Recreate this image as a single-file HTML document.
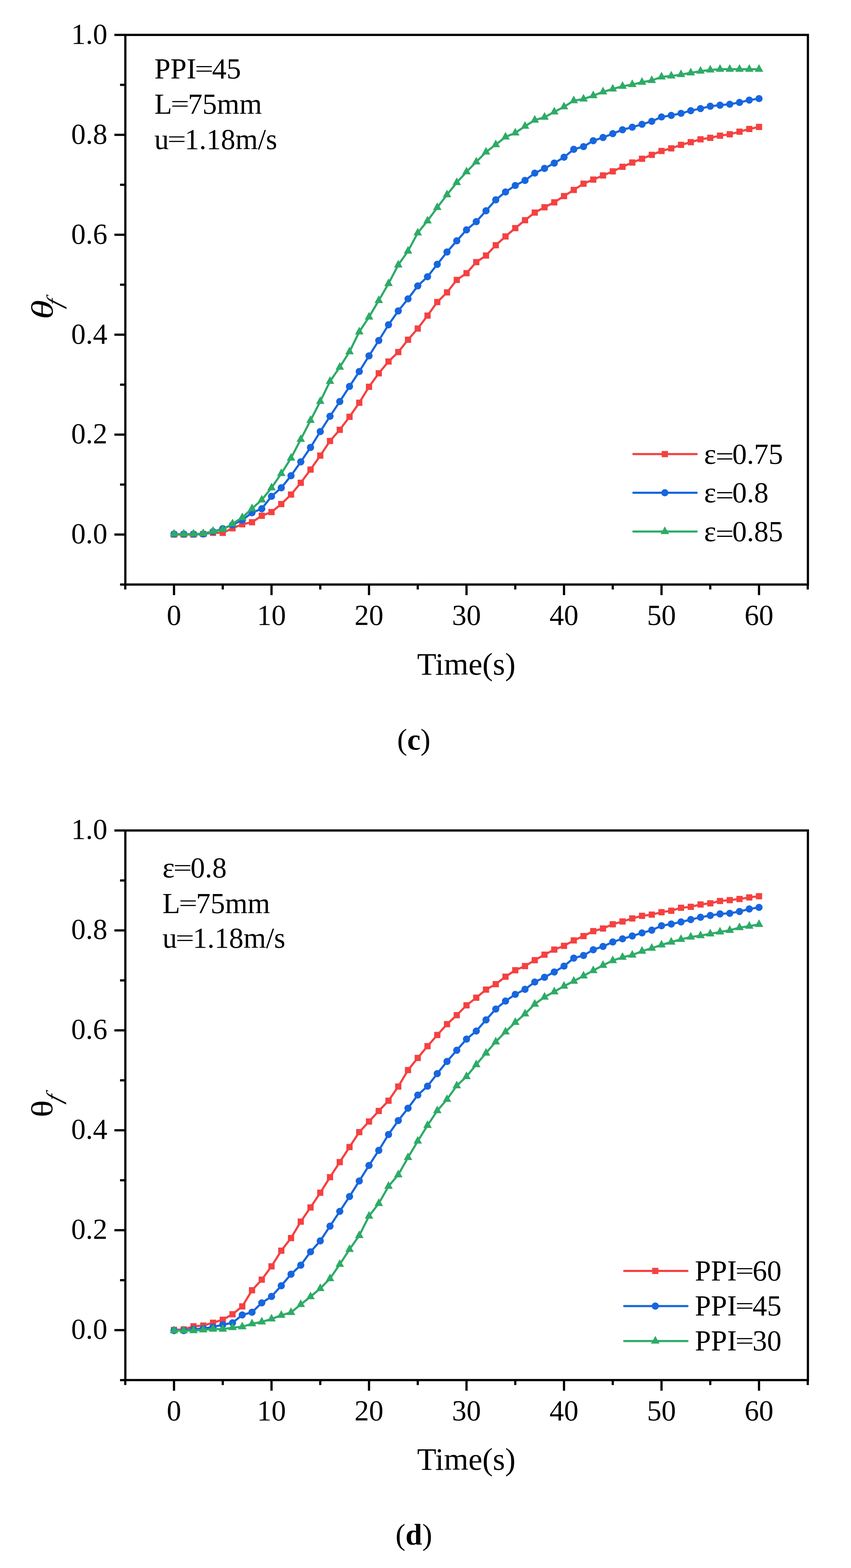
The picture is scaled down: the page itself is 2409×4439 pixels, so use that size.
<!DOCTYPE html>
<html><head><meta charset="utf-8"><title>Figure</title>
<style>
html,body{margin:0;padding:0;background:#fff;}
svg{display:block;}
.tk{font-family:"Liberation Serif","Times New Roman",serif;font-size:82px;fill:#000;}
.al{font-family:"Liberation Serif","Times New Roman",serif;font-size:89px;fill:#000;}
.cap{font-family:"Liberation Serif","Times New Roman",serif;font-size:85px;fill:#000;}
</style></head><body>
<svg width="2409" height="4439" viewBox="0 0 2409 4439">
<rect width="2409" height="4439" fill="#fff"/>
<rect x="354.8" y="98.8" width="1932.2" height="1556.0" fill="none" stroke="#000" stroke-width="6.3" stroke-linejoin="miter"/>
<line x1="354.8" y1="1654.8" x2="339.8" y2="1654.8" stroke="#000" stroke-width="6.3"/>
<line x1="354.8" y1="1513.3" x2="323.8" y2="1513.3" stroke="#000" stroke-width="6.3"/>
<line x1="354.8" y1="1371.8" x2="339.8" y2="1371.8" stroke="#000" stroke-width="6.3"/>
<line x1="354.8" y1="1230.4" x2="323.8" y2="1230.4" stroke="#000" stroke-width="6.3"/>
<line x1="354.8" y1="1089.0" x2="339.8" y2="1089.0" stroke="#000" stroke-width="6.3"/>
<line x1="354.8" y1="947.5" x2="323.8" y2="947.5" stroke="#000" stroke-width="6.3"/>
<line x1="354.8" y1="806.0" x2="339.8" y2="806.0" stroke="#000" stroke-width="6.3"/>
<line x1="354.8" y1="664.6" x2="323.8" y2="664.6" stroke="#000" stroke-width="6.3"/>
<line x1="354.8" y1="523.1" x2="339.8" y2="523.1" stroke="#000" stroke-width="6.3"/>
<line x1="354.8" y1="381.7" x2="323.8" y2="381.7" stroke="#000" stroke-width="6.3"/>
<line x1="354.8" y1="240.2" x2="339.8" y2="240.2" stroke="#000" stroke-width="6.3"/>
<line x1="354.8" y1="98.8" x2="323.8" y2="98.8" stroke="#000" stroke-width="6.3"/>
<text x="304" y="1538.3" text-anchor="end" class="tk">0.0</text>
<text x="304" y="1255.4" text-anchor="end" class="tk">0.2</text>
<text x="304" y="972.5" text-anchor="end" class="tk">0.4</text>
<text x="304" y="689.6" text-anchor="end" class="tk">0.6</text>
<text x="304" y="406.7" text-anchor="end" class="tk">0.8</text>
<text x="304" y="123.8" text-anchor="end" class="tk">1.0</text>
<line x1="354.6" y1="1654.8" x2="354.6" y2="1668.8" stroke="#000" stroke-width="6.3"/>
<line x1="492.6" y1="1654.8" x2="492.6" y2="1684.8" stroke="#000" stroke-width="6.3"/>
<line x1="630.6" y1="1654.8" x2="630.6" y2="1668.8" stroke="#000" stroke-width="6.3"/>
<line x1="768.6" y1="1654.8" x2="768.6" y2="1684.8" stroke="#000" stroke-width="6.3"/>
<line x1="906.6" y1="1654.8" x2="906.6" y2="1668.8" stroke="#000" stroke-width="6.3"/>
<line x1="1044.6" y1="1654.8" x2="1044.6" y2="1684.8" stroke="#000" stroke-width="6.3"/>
<line x1="1182.6" y1="1654.8" x2="1182.6" y2="1668.8" stroke="#000" stroke-width="6.3"/>
<line x1="1320.6" y1="1654.8" x2="1320.6" y2="1684.8" stroke="#000" stroke-width="6.3"/>
<line x1="1458.6" y1="1654.8" x2="1458.6" y2="1668.8" stroke="#000" stroke-width="6.3"/>
<line x1="1596.6" y1="1654.8" x2="1596.6" y2="1684.8" stroke="#000" stroke-width="6.3"/>
<line x1="1734.6" y1="1654.8" x2="1734.6" y2="1668.8" stroke="#000" stroke-width="6.3"/>
<line x1="1872.6" y1="1654.8" x2="1872.6" y2="1684.8" stroke="#000" stroke-width="6.3"/>
<line x1="2010.6" y1="1654.8" x2="2010.6" y2="1668.8" stroke="#000" stroke-width="6.3"/>
<line x1="2148.6" y1="1654.8" x2="2148.6" y2="1684.8" stroke="#000" stroke-width="6.3"/>
<line x1="2286.6" y1="1654.8" x2="2286.6" y2="1668.8" stroke="#000" stroke-width="6.3"/>
<text x="492.6" y="1769.3" text-anchor="middle" class="tk">0</text>
<text x="768.6" y="1769.3" text-anchor="middle" class="tk">10</text>
<text x="1044.6" y="1769.3" text-anchor="middle" class="tk">20</text>
<text x="1320.6" y="1769.3" text-anchor="middle" class="tk">30</text>
<text x="1596.6" y="1769.3" text-anchor="middle" class="tk">40</text>
<text x="1872.6" y="1769.3" text-anchor="middle" class="tk">50</text>
<text x="2148.6" y="1769.3" text-anchor="middle" class="tk">60</text>
<text x="1320" y="1909.8" text-anchor="middle" class="al">Time(s)</text>
<path d="M492.6 1513.3 L520.2 1513.3 L547.8 1513.3 L575.4 1511.9 L603.0 1508.3 L630.6 1508.6 L658.2 1495.5 L685.8 1484.2 L713.4 1478.4 L741.0 1460.1 L768.6 1449.6 L796.2 1427.0 L823.8 1400.1 L851.4 1366.8 L879.0 1329.4 L906.6 1289.8 L934.2 1248.4 L961.8 1216.8 L989.4 1180.0 L1017.0 1140.2 L1044.6 1095.0 L1072.2 1056.8 L1099.8 1023.5 L1127.4 996.7 L1155.0 961.8 L1182.6 930.1 L1210.2 893.5 L1237.8 855.1 L1265.4 827.8 L1293.0 792.5 L1320.6 773.4 L1348.2 742.1 L1375.8 723.4 L1403.4 694.2 L1431.0 669.4 L1458.6 645.8 L1486.2 623.4 L1513.8 601.8 L1541.4 586.8 L1569.0 572.8 L1596.6 555.1 L1624.2 537.7 L1651.8 520.0 L1679.4 508.4 L1707.0 496.7 L1734.6 485.1 L1762.2 472.2 L1789.8 460.1 L1817.4 449.5 L1845.0 438.4 L1872.6 427.4 L1900.2 420.0 L1927.8 410.1 L1955.4 402.5 L1983.0 394.4 L2010.6 390.2 L2038.2 384.1 L2065.8 380.1 L2093.4 372.8 L2121.0 365.2 L2148.6 359.4" fill="none" stroke="#F54141" stroke-width="6.0" stroke-linejoin="round" stroke-linecap="round"/>
<rect x="483.8" y="1504.5" width="17.6" height="17.6" fill="#F54141"/>
<rect x="511.4" y="1504.5" width="17.6" height="17.6" fill="#F54141"/>
<rect x="539.0" y="1504.5" width="17.6" height="17.6" fill="#F54141"/>
<rect x="566.6" y="1503.1" width="17.6" height="17.6" fill="#F54141"/>
<rect x="594.2" y="1499.5" width="17.6" height="17.6" fill="#F54141"/>
<rect x="621.8" y="1499.8" width="17.6" height="17.6" fill="#F54141"/>
<rect x="649.4" y="1486.7" width="17.6" height="17.6" fill="#F54141"/>
<rect x="677.0" y="1475.4" width="17.6" height="17.6" fill="#F54141"/>
<rect x="704.6" y="1469.6" width="17.6" height="17.6" fill="#F54141"/>
<rect x="732.2" y="1451.3" width="17.6" height="17.6" fill="#F54141"/>
<rect x="759.8" y="1440.8" width="17.6" height="17.6" fill="#F54141"/>
<rect x="787.4" y="1418.2" width="17.6" height="17.6" fill="#F54141"/>
<rect x="815.0" y="1391.3" width="17.6" height="17.6" fill="#F54141"/>
<rect x="842.6" y="1358.0" width="17.6" height="17.6" fill="#F54141"/>
<rect x="870.2" y="1320.6" width="17.6" height="17.6" fill="#F54141"/>
<rect x="897.8" y="1281.0" width="17.6" height="17.6" fill="#F54141"/>
<rect x="925.4" y="1239.6" width="17.6" height="17.6" fill="#F54141"/>
<rect x="953.0" y="1208.0" width="17.6" height="17.6" fill="#F54141"/>
<rect x="980.6" y="1171.2" width="17.6" height="17.6" fill="#F54141"/>
<rect x="1008.2" y="1131.4" width="17.6" height="17.6" fill="#F54141"/>
<rect x="1035.8" y="1086.2" width="17.6" height="17.6" fill="#F54141"/>
<rect x="1063.4" y="1048.0" width="17.6" height="17.6" fill="#F54141"/>
<rect x="1091.0" y="1014.7" width="17.6" height="17.6" fill="#F54141"/>
<rect x="1118.6" y="987.9" width="17.6" height="17.6" fill="#F54141"/>
<rect x="1146.2" y="953.0" width="17.6" height="17.6" fill="#F54141"/>
<rect x="1173.8" y="921.3" width="17.6" height="17.6" fill="#F54141"/>
<rect x="1201.4" y="884.7" width="17.6" height="17.6" fill="#F54141"/>
<rect x="1229.0" y="846.3" width="17.6" height="17.6" fill="#F54141"/>
<rect x="1256.6" y="819.0" width="17.6" height="17.6" fill="#F54141"/>
<rect x="1284.2" y="783.7" width="17.6" height="17.6" fill="#F54141"/>
<rect x="1311.8" y="764.6" width="17.6" height="17.6" fill="#F54141"/>
<rect x="1339.4" y="733.3" width="17.6" height="17.6" fill="#F54141"/>
<rect x="1367.0" y="714.6" width="17.6" height="17.6" fill="#F54141"/>
<rect x="1394.6" y="685.4" width="17.6" height="17.6" fill="#F54141"/>
<rect x="1422.2" y="660.6" width="17.6" height="17.6" fill="#F54141"/>
<rect x="1449.8" y="637.0" width="17.6" height="17.6" fill="#F54141"/>
<rect x="1477.4" y="614.6" width="17.6" height="17.6" fill="#F54141"/>
<rect x="1505.0" y="593.0" width="17.6" height="17.6" fill="#F54141"/>
<rect x="1532.6" y="578.0" width="17.6" height="17.6" fill="#F54141"/>
<rect x="1560.2" y="564.0" width="17.6" height="17.6" fill="#F54141"/>
<rect x="1587.8" y="546.3" width="17.6" height="17.6" fill="#F54141"/>
<rect x="1615.4" y="528.9" width="17.6" height="17.6" fill="#F54141"/>
<rect x="1643.0" y="511.2" width="17.6" height="17.6" fill="#F54141"/>
<rect x="1670.6" y="499.6" width="17.6" height="17.6" fill="#F54141"/>
<rect x="1698.2" y="487.9" width="17.6" height="17.6" fill="#F54141"/>
<rect x="1725.8" y="476.3" width="17.6" height="17.6" fill="#F54141"/>
<rect x="1753.4" y="463.4" width="17.6" height="17.6" fill="#F54141"/>
<rect x="1781.0" y="451.3" width="17.6" height="17.6" fill="#F54141"/>
<rect x="1808.6" y="440.7" width="17.6" height="17.6" fill="#F54141"/>
<rect x="1836.2" y="429.6" width="17.6" height="17.6" fill="#F54141"/>
<rect x="1863.8" y="418.6" width="17.6" height="17.6" fill="#F54141"/>
<rect x="1891.4" y="411.2" width="17.6" height="17.6" fill="#F54141"/>
<rect x="1919.0" y="401.3" width="17.6" height="17.6" fill="#F54141"/>
<rect x="1946.6" y="393.7" width="17.6" height="17.6" fill="#F54141"/>
<rect x="1974.2" y="385.6" width="17.6" height="17.6" fill="#F54141"/>
<rect x="2001.8" y="381.4" width="17.6" height="17.6" fill="#F54141"/>
<rect x="2029.4" y="375.3" width="17.6" height="17.6" fill="#F54141"/>
<rect x="2057.0" y="371.3" width="17.6" height="17.6" fill="#F54141"/>
<rect x="2084.6" y="364.0" width="17.6" height="17.6" fill="#F54141"/>
<rect x="2112.2" y="356.4" width="17.6" height="17.6" fill="#F54141"/>
<rect x="2139.8" y="350.6" width="17.6" height="17.6" fill="#F54141"/>
<path d="M492.6 1511.9 L520.2 1511.9 L547.8 1511.9 L575.4 1511.9 L603.0 1505.0 L630.6 1496.8 L658.2 1485.9 L685.8 1472.3 L713.4 1451.5 L741.0 1440.2 L768.6 1405.1 L796.2 1381.0 L823.8 1346.8 L851.4 1307.5 L879.0 1266.8 L906.6 1221.8 L934.2 1178.5 L961.8 1136.8 L989.4 1094.0 L1017.0 1051.7 L1044.6 1007.5 L1072.2 964.0 L1099.8 919.5 L1127.4 880.2 L1155.0 846.1 L1182.6 809.4 L1210.2 783.4 L1237.8 748.3 L1265.4 713.4 L1293.0 681.7 L1320.6 650.7 L1348.2 627.5 L1375.8 596.7 L1403.4 565.7 L1431.0 543.4 L1458.6 525.1 L1486.2 510.8 L1513.8 490.1 L1541.4 476.8 L1569.0 461.8 L1596.6 445.1 L1624.2 422.7 L1651.8 415.1 L1679.4 398.4 L1707.0 389.3 L1734.6 378.4 L1762.2 367.4 L1789.8 360.1 L1817.4 351.9 L1845.0 343.4 L1872.6 331.1 L1900.2 326.8 L1927.8 320.9 L1955.4 313.4 L1983.0 307.4 L2010.6 300.8 L2038.2 297.8 L2065.8 295.1 L2093.4 290.0 L2121.0 283.4 L2148.6 279.1" fill="none" stroke="#1766DE" stroke-width="6.0" stroke-linejoin="round" stroke-linecap="round"/>
<circle cx="492.6" cy="1511.9" r="10.2" fill="#1766DE"/>
<circle cx="520.2" cy="1511.9" r="10.2" fill="#1766DE"/>
<circle cx="547.8" cy="1511.9" r="10.2" fill="#1766DE"/>
<circle cx="575.4" cy="1511.9" r="10.2" fill="#1766DE"/>
<circle cx="603.0" cy="1505.0" r="10.2" fill="#1766DE"/>
<circle cx="630.6" cy="1496.8" r="10.2" fill="#1766DE"/>
<circle cx="658.2" cy="1485.9" r="10.2" fill="#1766DE"/>
<circle cx="685.8" cy="1472.3" r="10.2" fill="#1766DE"/>
<circle cx="713.4" cy="1451.5" r="10.2" fill="#1766DE"/>
<circle cx="741.0" cy="1440.2" r="10.2" fill="#1766DE"/>
<circle cx="768.6" cy="1405.1" r="10.2" fill="#1766DE"/>
<circle cx="796.2" cy="1381.0" r="10.2" fill="#1766DE"/>
<circle cx="823.8" cy="1346.8" r="10.2" fill="#1766DE"/>
<circle cx="851.4" cy="1307.5" r="10.2" fill="#1766DE"/>
<circle cx="879.0" cy="1266.8" r="10.2" fill="#1766DE"/>
<circle cx="906.6" cy="1221.8" r="10.2" fill="#1766DE"/>
<circle cx="934.2" cy="1178.5" r="10.2" fill="#1766DE"/>
<circle cx="961.8" cy="1136.8" r="10.2" fill="#1766DE"/>
<circle cx="989.4" cy="1094.0" r="10.2" fill="#1766DE"/>
<circle cx="1017.0" cy="1051.7" r="10.2" fill="#1766DE"/>
<circle cx="1044.6" cy="1007.5" r="10.2" fill="#1766DE"/>
<circle cx="1072.2" cy="964.0" r="10.2" fill="#1766DE"/>
<circle cx="1099.8" cy="919.5" r="10.2" fill="#1766DE"/>
<circle cx="1127.4" cy="880.2" r="10.2" fill="#1766DE"/>
<circle cx="1155.0" cy="846.1" r="10.2" fill="#1766DE"/>
<circle cx="1182.6" cy="809.4" r="10.2" fill="#1766DE"/>
<circle cx="1210.2" cy="783.4" r="10.2" fill="#1766DE"/>
<circle cx="1237.8" cy="748.3" r="10.2" fill="#1766DE"/>
<circle cx="1265.4" cy="713.4" r="10.2" fill="#1766DE"/>
<circle cx="1293.0" cy="681.7" r="10.2" fill="#1766DE"/>
<circle cx="1320.6" cy="650.7" r="10.2" fill="#1766DE"/>
<circle cx="1348.2" cy="627.5" r="10.2" fill="#1766DE"/>
<circle cx="1375.8" cy="596.7" r="10.2" fill="#1766DE"/>
<circle cx="1403.4" cy="565.7" r="10.2" fill="#1766DE"/>
<circle cx="1431.0" cy="543.4" r="10.2" fill="#1766DE"/>
<circle cx="1458.6" cy="525.1" r="10.2" fill="#1766DE"/>
<circle cx="1486.2" cy="510.8" r="10.2" fill="#1766DE"/>
<circle cx="1513.8" cy="490.1" r="10.2" fill="#1766DE"/>
<circle cx="1541.4" cy="476.8" r="10.2" fill="#1766DE"/>
<circle cx="1569.0" cy="461.8" r="10.2" fill="#1766DE"/>
<circle cx="1596.6" cy="445.1" r="10.2" fill="#1766DE"/>
<circle cx="1624.2" cy="422.7" r="10.2" fill="#1766DE"/>
<circle cx="1651.8" cy="415.1" r="10.2" fill="#1766DE"/>
<circle cx="1679.4" cy="398.4" r="10.2" fill="#1766DE"/>
<circle cx="1707.0" cy="389.3" r="10.2" fill="#1766DE"/>
<circle cx="1734.6" cy="378.4" r="10.2" fill="#1766DE"/>
<circle cx="1762.2" cy="367.4" r="10.2" fill="#1766DE"/>
<circle cx="1789.8" cy="360.1" r="10.2" fill="#1766DE"/>
<circle cx="1817.4" cy="351.9" r="10.2" fill="#1766DE"/>
<circle cx="1845.0" cy="343.4" r="10.2" fill="#1766DE"/>
<circle cx="1872.6" cy="331.1" r="10.2" fill="#1766DE"/>
<circle cx="1900.2" cy="326.8" r="10.2" fill="#1766DE"/>
<circle cx="1927.8" cy="320.9" r="10.2" fill="#1766DE"/>
<circle cx="1955.4" cy="313.4" r="10.2" fill="#1766DE"/>
<circle cx="1983.0" cy="307.4" r="10.2" fill="#1766DE"/>
<circle cx="2010.6" cy="300.8" r="10.2" fill="#1766DE"/>
<circle cx="2038.2" cy="297.8" r="10.2" fill="#1766DE"/>
<circle cx="2065.8" cy="295.1" r="10.2" fill="#1766DE"/>
<circle cx="2093.4" cy="290.0" r="10.2" fill="#1766DE"/>
<circle cx="2121.0" cy="283.4" r="10.2" fill="#1766DE"/>
<circle cx="2148.6" cy="279.1" r="10.2" fill="#1766DE"/>
<path d="M492.6 1511.9 L520.2 1511.9 L547.8 1511.9 L575.4 1510.6 L603.0 1504.1 L630.6 1499.4 L658.2 1482.7 L685.8 1465.3 L713.4 1440.0 L741.0 1415.1 L768.6 1381.0 L796.2 1340.6 L823.8 1296.9 L851.4 1243.8 L879.0 1190.1 L906.6 1136.3 L934.2 1079.5 L961.8 1039.4 L989.4 995.7 L1017.0 939.4 L1044.6 897.4 L1072.2 850.7 L1099.8 802.8 L1127.4 750.0 L1155.0 710.7 L1182.6 659.4 L1210.2 625.1 L1237.8 587.4 L1265.4 551.2 L1293.0 516.8 L1320.6 486.4 L1348.2 458.4 L1375.8 430.4 L1403.4 409.4 L1431.0 387.8 L1458.6 376.2 L1486.2 357.4 L1513.8 340.1 L1541.4 331.8 L1569.0 316.8 L1596.6 302.3 L1624.2 285.1 L1651.8 280.1 L1679.4 270.8 L1707.0 260.1 L1734.6 251.8 L1762.2 244.2 L1789.8 239.3 L1817.4 232.8 L1845.0 227.8 L1872.6 217.8 L1900.2 215.1 L1927.8 211.1 L1955.4 206.3 L1983.0 201.4 L2010.6 198.0 L2038.2 196.0 L2065.8 196.0 L2093.4 196.0 L2121.0 196.0 L2148.6 196.0" fill="none" stroke="#2EAB67" stroke-width="6.0" stroke-linejoin="round" stroke-linecap="round"/>
<path d="M492.6 1497.4L504.6 1519.1L480.6 1519.1Z" fill="#2EAB67"/>
<path d="M520.2 1497.4L532.2 1519.1L508.2 1519.1Z" fill="#2EAB67"/>
<path d="M547.8 1497.4L559.8 1519.1L535.8 1519.1Z" fill="#2EAB67"/>
<path d="M575.4 1496.1L587.4 1517.8L563.4 1517.8Z" fill="#2EAB67"/>
<path d="M603.0 1489.6L615.0 1511.3L591.0 1511.3Z" fill="#2EAB67"/>
<path d="M630.6 1485.0L642.6 1506.7L618.6 1506.7Z" fill="#2EAB67"/>
<path d="M658.2 1468.3L670.2 1490.0L646.2 1490.0Z" fill="#2EAB67"/>
<path d="M685.8 1450.9L697.8 1472.6L673.8 1472.6Z" fill="#2EAB67"/>
<path d="M713.4 1425.6L725.4 1447.3L701.4 1447.3Z" fill="#2EAB67"/>
<path d="M741.0 1400.7L753.0 1422.4L729.0 1422.4Z" fill="#2EAB67"/>
<path d="M768.6 1366.6L780.6 1388.3L756.6 1388.3Z" fill="#2EAB67"/>
<path d="M796.2 1326.1L808.2 1347.8L784.2 1347.8Z" fill="#2EAB67"/>
<path d="M823.8 1282.4L835.8 1304.1L811.8 1304.1Z" fill="#2EAB67"/>
<path d="M851.4 1229.4L863.4 1251.1L839.4 1251.1Z" fill="#2EAB67"/>
<path d="M879.0 1175.6L891.0 1197.3L867.0 1197.3Z" fill="#2EAB67"/>
<path d="M906.6 1121.9L918.6 1143.6L894.6 1143.6Z" fill="#2EAB67"/>
<path d="M934.2 1065.0L946.2 1086.7L922.2 1086.7Z" fill="#2EAB67"/>
<path d="M961.8 1025.0L973.8 1046.7L949.8 1046.7Z" fill="#2EAB67"/>
<path d="M989.4 981.3L1001.4 1003.0L977.4 1003.0Z" fill="#2EAB67"/>
<path d="M1017.0 925.0L1029.0 946.7L1005.0 946.7Z" fill="#2EAB67"/>
<path d="M1044.6 883.0L1056.6 904.7L1032.6 904.7Z" fill="#2EAB67"/>
<path d="M1072.2 836.3L1084.2 858.0L1060.2 858.0Z" fill="#2EAB67"/>
<path d="M1099.8 788.3L1111.8 810.0L1087.8 810.0Z" fill="#2EAB67"/>
<path d="M1127.4 735.6L1139.4 757.3L1115.4 757.3Z" fill="#2EAB67"/>
<path d="M1155.0 696.2L1167.0 717.9L1143.0 717.9Z" fill="#2EAB67"/>
<path d="M1182.6 644.9L1194.6 666.6L1170.6 666.6Z" fill="#2EAB67"/>
<path d="M1210.2 610.7L1222.2 632.4L1198.2 632.4Z" fill="#2EAB67"/>
<path d="M1237.8 572.9L1249.8 594.6L1225.8 594.6Z" fill="#2EAB67"/>
<path d="M1265.4 536.7L1277.4 558.4L1253.4 558.4Z" fill="#2EAB67"/>
<path d="M1293.0 502.3L1305.0 524.0L1281.0 524.0Z" fill="#2EAB67"/>
<path d="M1320.6 471.9L1332.6 493.6L1308.6 493.6Z" fill="#2EAB67"/>
<path d="M1348.2 443.9L1360.2 465.6L1336.2 465.6Z" fill="#2EAB67"/>
<path d="M1375.8 415.9L1387.8 437.6L1363.8 437.6Z" fill="#2EAB67"/>
<path d="M1403.4 395.0L1415.4 416.7L1391.4 416.7Z" fill="#2EAB67"/>
<path d="M1431.0 373.3L1443.0 395.0L1419.0 395.0Z" fill="#2EAB67"/>
<path d="M1458.6 361.7L1470.6 383.4L1446.6 383.4Z" fill="#2EAB67"/>
<path d="M1486.2 342.9L1498.2 364.6L1474.2 364.6Z" fill="#2EAB67"/>
<path d="M1513.8 325.6L1525.8 347.3L1501.8 347.3Z" fill="#2EAB67"/>
<path d="M1541.4 317.3L1553.4 339.0L1529.4 339.0Z" fill="#2EAB67"/>
<path d="M1569.0 302.3L1581.0 324.0L1557.0 324.0Z" fill="#2EAB67"/>
<path d="M1596.6 287.9L1608.6 309.6L1584.6 309.6Z" fill="#2EAB67"/>
<path d="M1624.2 270.6L1636.2 292.3L1612.2 292.3Z" fill="#2EAB67"/>
<path d="M1651.8 265.7L1663.8 287.4L1639.8 287.4Z" fill="#2EAB67"/>
<path d="M1679.4 256.3L1691.4 278.0L1667.4 278.0Z" fill="#2EAB67"/>
<path d="M1707.0 245.6L1719.0 267.3L1695.0 267.3Z" fill="#2EAB67"/>
<path d="M1734.6 237.4L1746.6 259.1L1722.6 259.1Z" fill="#2EAB67"/>
<path d="M1762.2 229.7L1774.2 251.4L1750.2 251.4Z" fill="#2EAB67"/>
<path d="M1789.8 224.8L1801.8 246.5L1777.8 246.5Z" fill="#2EAB67"/>
<path d="M1817.4 218.3L1829.4 240.0L1805.4 240.0Z" fill="#2EAB67"/>
<path d="M1845.0 213.3L1857.0 235.0L1833.0 235.0Z" fill="#2EAB67"/>
<path d="M1872.6 203.3L1884.6 225.0L1860.6 225.0Z" fill="#2EAB67"/>
<path d="M1900.2 200.6L1912.2 222.3L1888.2 222.3Z" fill="#2EAB67"/>
<path d="M1927.8 196.6L1939.8 218.3L1915.8 218.3Z" fill="#2EAB67"/>
<path d="M1955.4 191.8L1967.4 213.5L1943.4 213.5Z" fill="#2EAB67"/>
<path d="M1983.0 186.9L1995.0 208.6L1971.0 208.6Z" fill="#2EAB67"/>
<path d="M2010.6 183.5L2022.6 205.2L1998.6 205.2Z" fill="#2EAB67"/>
<path d="M2038.2 181.5L2050.2 203.2L2026.2 203.2Z" fill="#2EAB67"/>
<path d="M2065.8 181.5L2077.8 203.2L2053.8 203.2Z" fill="#2EAB67"/>
<path d="M2093.4 181.5L2105.4 203.2L2081.4 203.2Z" fill="#2EAB67"/>
<path d="M2121.0 181.5L2133.0 203.2L2109.0 203.2Z" fill="#2EAB67"/>
<path d="M2148.6 181.5L2160.6 203.2L2136.6 203.2Z" fill="#2EAB67"/>
<line x1="1793" y1="1285.5" x2="1972" y2="1285.5" stroke="#F54141" stroke-width="6.0" stroke-linecap="round"/>
<rect x="1873.2" y="1276.7" width="17.6" height="17.6" fill="#F54141"/>
<text x="1993" y="1312.7" class="tk">ε<tspan style="font-size:72px" dx="-1.9" dy="3.5" textLength="52.2" lengthAdjust="spacingAndGlyphs">=</tspan><tspan dx="-4.7" dy="-3.5">0.75</tspan></text>
<line x1="1793" y1="1395.0" x2="1972" y2="1395.0" stroke="#1766DE" stroke-width="6.0" stroke-linecap="round"/>
<circle cx="1882.0" cy="1395.0" r="10.2" fill="#1766DE"/>
<text x="1993" y="1422.2" class="tk">ε<tspan style="font-size:72px" dx="-1.9" dy="3.5" textLength="52.2" lengthAdjust="spacingAndGlyphs">=</tspan><tspan dx="-4.7" dy="-3.5">0.8</tspan></text>
<line x1="1793" y1="1504.7" x2="1972" y2="1504.7" stroke="#2EAB67" stroke-width="6.0" stroke-linecap="round"/>
<path d="M1882.0 1490.2L1894.0 1511.9L1870.0 1511.9Z" fill="#2EAB67"/>
<text x="1993" y="1531.9" class="tk">ε<tspan style="font-size:72px" dx="-1.9" dy="3.5" textLength="52.2" lengthAdjust="spacingAndGlyphs">=</tspan><tspan dx="-4.7" dy="-3.5">0.85</tspan></text>
<text x="437" y="222" class="tk">PPI<tspan style="font-size:64px" dx="-4.0" dy="-6.1" textLength="52.8" lengthAdjust="spacingAndGlyphs">=</tspan><tspan dx="-4.0" dy="6.1">45</tspan></text><text x="437" y="321.5" class="tk">L<tspan style="font-size:64px" dx="-4.0" dy="-6.1" textLength="52.8" lengthAdjust="spacingAndGlyphs">=</tspan><tspan dx="-4.0" dy="6.1">75mm</tspan></text><text x="437" y="421.5" class="tk">u<tspan style="font-size:64px" dx="-4.0" dy="-6.1" textLength="52.8" lengthAdjust="spacingAndGlyphs">=</tspan><tspan dx="-4.0" dy="6.1">1.18m/s</tspan></text>
<text transform="translate(148.6,904) rotate(-90) scale(1.25,0.985)" class="al" font-style="italic">θ</text><text transform="translate(174.6,871.6) rotate(-90) skewX(-18)" class="al" style="font-size:62px" font-style="italic">f</text>
<text x="1171.5" y="2121.5" text-anchor="middle" class="cap">(<tspan font-weight="bold">c</tspan>)</text>
<rect x="354.8" y="2351.1" width="1932.2" height="1555.9" fill="none" stroke="#000" stroke-width="6.3" stroke-linejoin="miter"/>
<line x1="354.8" y1="3907.1" x2="339.8" y2="3907.1" stroke="#000" stroke-width="6.3"/>
<line x1="354.8" y1="3765.6" x2="323.8" y2="3765.6" stroke="#000" stroke-width="6.3"/>
<line x1="354.8" y1="3624.2" x2="339.8" y2="3624.2" stroke="#000" stroke-width="6.3"/>
<line x1="354.8" y1="3482.7" x2="323.8" y2="3482.7" stroke="#000" stroke-width="6.3"/>
<line x1="354.8" y1="3341.3" x2="339.8" y2="3341.3" stroke="#000" stroke-width="6.3"/>
<line x1="354.8" y1="3199.8" x2="323.8" y2="3199.8" stroke="#000" stroke-width="6.3"/>
<line x1="354.8" y1="3058.4" x2="339.8" y2="3058.4" stroke="#000" stroke-width="6.3"/>
<line x1="354.8" y1="2916.9" x2="323.8" y2="2916.9" stroke="#000" stroke-width="6.3"/>
<line x1="354.8" y1="2775.5" x2="339.8" y2="2775.5" stroke="#000" stroke-width="6.3"/>
<line x1="354.8" y1="2634.0" x2="323.8" y2="2634.0" stroke="#000" stroke-width="6.3"/>
<line x1="354.8" y1="2492.6" x2="339.8" y2="2492.6" stroke="#000" stroke-width="6.3"/>
<line x1="354.8" y1="2351.1" x2="323.8" y2="2351.1" stroke="#000" stroke-width="6.3"/>
<text x="304" y="3789.6" text-anchor="end" class="tk">0.0</text>
<text x="304" y="3506.7" text-anchor="end" class="tk">0.2</text>
<text x="304" y="3223.8" text-anchor="end" class="tk">0.4</text>
<text x="304" y="2940.9" text-anchor="end" class="tk">0.6</text>
<text x="304" y="2658.0" text-anchor="end" class="tk">0.8</text>
<text x="304" y="2375.1" text-anchor="end" class="tk">1.0</text>
<line x1="354.6" y1="3907.1" x2="354.6" y2="3921.1" stroke="#000" stroke-width="6.3"/>
<line x1="492.6" y1="3907.1" x2="492.6" y2="3937.1" stroke="#000" stroke-width="6.3"/>
<line x1="630.6" y1="3907.1" x2="630.6" y2="3921.1" stroke="#000" stroke-width="6.3"/>
<line x1="768.6" y1="3907.1" x2="768.6" y2="3937.1" stroke="#000" stroke-width="6.3"/>
<line x1="906.6" y1="3907.1" x2="906.6" y2="3921.1" stroke="#000" stroke-width="6.3"/>
<line x1="1044.6" y1="3907.1" x2="1044.6" y2="3937.1" stroke="#000" stroke-width="6.3"/>
<line x1="1182.6" y1="3907.1" x2="1182.6" y2="3921.1" stroke="#000" stroke-width="6.3"/>
<line x1="1320.6" y1="3907.1" x2="1320.6" y2="3937.1" stroke="#000" stroke-width="6.3"/>
<line x1="1458.6" y1="3907.1" x2="1458.6" y2="3921.1" stroke="#000" stroke-width="6.3"/>
<line x1="1596.6" y1="3907.1" x2="1596.6" y2="3937.1" stroke="#000" stroke-width="6.3"/>
<line x1="1734.6" y1="3907.1" x2="1734.6" y2="3921.1" stroke="#000" stroke-width="6.3"/>
<line x1="1872.6" y1="3907.1" x2="1872.6" y2="3937.1" stroke="#000" stroke-width="6.3"/>
<line x1="2010.6" y1="3907.1" x2="2010.6" y2="3921.1" stroke="#000" stroke-width="6.3"/>
<line x1="2148.6" y1="3907.1" x2="2148.6" y2="3937.1" stroke="#000" stroke-width="6.3"/>
<line x1="2286.6" y1="3907.1" x2="2286.6" y2="3921.1" stroke="#000" stroke-width="6.3"/>
<text x="492.6" y="4020.6" text-anchor="middle" class="tk">0</text>
<text x="768.6" y="4020.6" text-anchor="middle" class="tk">10</text>
<text x="1044.6" y="4020.6" text-anchor="middle" class="tk">20</text>
<text x="1320.6" y="4020.6" text-anchor="middle" class="tk">30</text>
<text x="1596.6" y="4020.6" text-anchor="middle" class="tk">40</text>
<text x="1872.6" y="4020.6" text-anchor="middle" class="tk">50</text>
<text x="2148.6" y="4020.6" text-anchor="middle" class="tk">60</text>
<text x="1320" y="4161.1" text-anchor="middle" class="al">Time(s)</text>
<path d="M492.6 3765.0 L520.2 3763.6 L547.8 3754.7 L575.4 3752.7 L603.0 3744.7 L630.6 3736.2 L658.2 3720.6 L685.8 3698.4 L713.4 3652.7 L741.0 3622.7 L768.6 3585.0 L796.2 3540.7 L823.8 3505.0 L851.4 3458.4 L879.0 3418.3 L906.6 3376.6 L934.2 3332.6 L961.8 3290.0 L989.4 3247.3 L1017.0 3205.0 L1044.6 3175.0 L1072.2 3145.1 L1099.8 3116.1 L1127.4 3076.0 L1155.0 3029.4 L1182.6 2995.0 L1210.2 2961.7 L1237.8 2930.1 L1265.4 2899.4 L1293.0 2874.0 L1320.6 2846.0 L1348.2 2824.5 L1375.8 2801.6 L1403.4 2786.1 L1431.0 2765.0 L1458.6 2746.7 L1486.2 2735.0 L1513.8 2718.3 L1541.4 2702.7 L1569.0 2688.3 L1596.6 2677.7 L1624.2 2662.3 L1651.8 2650.0 L1679.4 2636.0 L1707.0 2628.6 L1734.6 2616.6 L1762.2 2608.7 L1789.8 2600.1 L1817.4 2592.7 L1845.0 2589.3 L1872.6 2582.4 L1900.2 2578.3 L1927.8 2569.9 L1955.4 2567.2 L1983.0 2560.6 L2010.6 2557.3 L2038.2 2550.7 L2065.8 2548.3 L2093.4 2545.0 L2121.0 2540.6 L2148.6 2537.2" fill="none" stroke="#F54141" stroke-width="6.0" stroke-linejoin="round" stroke-linecap="round"/>
<rect x="483.8" y="3756.2" width="17.6" height="17.6" fill="#F54141"/>
<rect x="511.4" y="3754.8" width="17.6" height="17.6" fill="#F54141"/>
<rect x="539.0" y="3745.9" width="17.6" height="17.6" fill="#F54141"/>
<rect x="566.6" y="3743.9" width="17.6" height="17.6" fill="#F54141"/>
<rect x="594.2" y="3735.9" width="17.6" height="17.6" fill="#F54141"/>
<rect x="621.8" y="3727.4" width="17.6" height="17.6" fill="#F54141"/>
<rect x="649.4" y="3711.8" width="17.6" height="17.6" fill="#F54141"/>
<rect x="677.0" y="3689.6" width="17.6" height="17.6" fill="#F54141"/>
<rect x="704.6" y="3643.9" width="17.6" height="17.6" fill="#F54141"/>
<rect x="732.2" y="3613.9" width="17.6" height="17.6" fill="#F54141"/>
<rect x="759.8" y="3576.2" width="17.6" height="17.6" fill="#F54141"/>
<rect x="787.4" y="3531.9" width="17.6" height="17.6" fill="#F54141"/>
<rect x="815.0" y="3496.2" width="17.6" height="17.6" fill="#F54141"/>
<rect x="842.6" y="3449.6" width="17.6" height="17.6" fill="#F54141"/>
<rect x="870.2" y="3409.5" width="17.6" height="17.6" fill="#F54141"/>
<rect x="897.8" y="3367.8" width="17.6" height="17.6" fill="#F54141"/>
<rect x="925.4" y="3323.8" width="17.6" height="17.6" fill="#F54141"/>
<rect x="953.0" y="3281.2" width="17.6" height="17.6" fill="#F54141"/>
<rect x="980.6" y="3238.5" width="17.6" height="17.6" fill="#F54141"/>
<rect x="1008.2" y="3196.2" width="17.6" height="17.6" fill="#F54141"/>
<rect x="1035.8" y="3166.2" width="17.6" height="17.6" fill="#F54141"/>
<rect x="1063.4" y="3136.3" width="17.6" height="17.6" fill="#F54141"/>
<rect x="1091.0" y="3107.3" width="17.6" height="17.6" fill="#F54141"/>
<rect x="1118.6" y="3067.2" width="17.6" height="17.6" fill="#F54141"/>
<rect x="1146.2" y="3020.6" width="17.6" height="17.6" fill="#F54141"/>
<rect x="1173.8" y="2986.2" width="17.6" height="17.6" fill="#F54141"/>
<rect x="1201.4" y="2952.9" width="17.6" height="17.6" fill="#F54141"/>
<rect x="1229.0" y="2921.3" width="17.6" height="17.6" fill="#F54141"/>
<rect x="1256.6" y="2890.6" width="17.6" height="17.6" fill="#F54141"/>
<rect x="1284.2" y="2865.2" width="17.6" height="17.6" fill="#F54141"/>
<rect x="1311.8" y="2837.2" width="17.6" height="17.6" fill="#F54141"/>
<rect x="1339.4" y="2815.7" width="17.6" height="17.6" fill="#F54141"/>
<rect x="1367.0" y="2792.8" width="17.6" height="17.6" fill="#F54141"/>
<rect x="1394.6" y="2777.3" width="17.6" height="17.6" fill="#F54141"/>
<rect x="1422.2" y="2756.2" width="17.6" height="17.6" fill="#F54141"/>
<rect x="1449.8" y="2737.9" width="17.6" height="17.6" fill="#F54141"/>
<rect x="1477.4" y="2726.2" width="17.6" height="17.6" fill="#F54141"/>
<rect x="1505.0" y="2709.5" width="17.6" height="17.6" fill="#F54141"/>
<rect x="1532.6" y="2693.9" width="17.6" height="17.6" fill="#F54141"/>
<rect x="1560.2" y="2679.5" width="17.6" height="17.6" fill="#F54141"/>
<rect x="1587.8" y="2668.9" width="17.6" height="17.6" fill="#F54141"/>
<rect x="1615.4" y="2653.5" width="17.6" height="17.6" fill="#F54141"/>
<rect x="1643.0" y="2641.2" width="17.6" height="17.6" fill="#F54141"/>
<rect x="1670.6" y="2627.2" width="17.6" height="17.6" fill="#F54141"/>
<rect x="1698.2" y="2619.8" width="17.6" height="17.6" fill="#F54141"/>
<rect x="1725.8" y="2607.8" width="17.6" height="17.6" fill="#F54141"/>
<rect x="1753.4" y="2599.9" width="17.6" height="17.6" fill="#F54141"/>
<rect x="1781.0" y="2591.3" width="17.6" height="17.6" fill="#F54141"/>
<rect x="1808.6" y="2583.9" width="17.6" height="17.6" fill="#F54141"/>
<rect x="1836.2" y="2580.5" width="17.6" height="17.6" fill="#F54141"/>
<rect x="1863.8" y="2573.6" width="17.6" height="17.6" fill="#F54141"/>
<rect x="1891.4" y="2569.5" width="17.6" height="17.6" fill="#F54141"/>
<rect x="1919.0" y="2561.1" width="17.6" height="17.6" fill="#F54141"/>
<rect x="1946.6" y="2558.4" width="17.6" height="17.6" fill="#F54141"/>
<rect x="1974.2" y="2551.8" width="17.6" height="17.6" fill="#F54141"/>
<rect x="2001.8" y="2548.5" width="17.6" height="17.6" fill="#F54141"/>
<rect x="2029.4" y="2541.9" width="17.6" height="17.6" fill="#F54141"/>
<rect x="2057.0" y="2539.5" width="17.6" height="17.6" fill="#F54141"/>
<rect x="2084.6" y="2536.2" width="17.6" height="17.6" fill="#F54141"/>
<rect x="2112.2" y="2531.8" width="17.6" height="17.6" fill="#F54141"/>
<rect x="2139.8" y="2528.4" width="17.6" height="17.6" fill="#F54141"/>
<path d="M492.6 3767.0 L520.2 3767.0 L547.8 3763.3 L575.4 3760.9 L603.0 3756.7 L630.6 3750.3 L658.2 3744.9 L685.8 3722.6 L713.4 3715.0 L741.0 3688.4 L768.6 3670.3 L796.2 3640.0 L823.8 3607.3 L851.4 3581.7 L879.0 3543.9 L906.6 3513.0 L934.2 3471.2 L961.8 3429.4 L989.4 3387.4 L1017.0 3343.4 L1044.6 3299.4 L1072.2 3256.7 L1099.8 3211.7 L1127.4 3172.4 L1155.0 3137.4 L1182.6 3100.1 L1210.2 3075.0 L1237.8 3039.4 L1265.4 3005.0 L1293.0 2973.3 L1320.6 2941.7 L1348.2 2918.9 L1375.8 2887.3 L1403.4 2856.6 L1431.0 2834.0 L1458.6 2815.1 L1486.2 2800.8 L1513.8 2780.1 L1541.4 2766.7 L1569.0 2751.7 L1596.6 2735.1 L1624.2 2712.4 L1651.8 2705.0 L1679.4 2688.7 L1707.0 2679.4 L1734.6 2666.7 L1762.2 2657.9 L1789.8 2649.7 L1817.4 2641.1 L1845.0 2633.3 L1872.6 2620.7 L1900.2 2616.0 L1927.8 2610.0 L1955.4 2603.3 L1983.0 2596.7 L2010.6 2591.7 L2038.2 2587.3 L2065.8 2585.6 L2093.4 2580.5 L2121.0 2573.3 L2148.6 2568.9" fill="none" stroke="#1766DE" stroke-width="6.0" stroke-linejoin="round" stroke-linecap="round"/>
<circle cx="492.6" cy="3767.0" r="10.2" fill="#1766DE"/>
<circle cx="520.2" cy="3767.0" r="10.2" fill="#1766DE"/>
<circle cx="547.8" cy="3763.3" r="10.2" fill="#1766DE"/>
<circle cx="575.4" cy="3760.9" r="10.2" fill="#1766DE"/>
<circle cx="603.0" cy="3756.7" r="10.2" fill="#1766DE"/>
<circle cx="630.6" cy="3750.3" r="10.2" fill="#1766DE"/>
<circle cx="658.2" cy="3744.9" r="10.2" fill="#1766DE"/>
<circle cx="685.8" cy="3722.6" r="10.2" fill="#1766DE"/>
<circle cx="713.4" cy="3715.0" r="10.2" fill="#1766DE"/>
<circle cx="741.0" cy="3688.4" r="10.2" fill="#1766DE"/>
<circle cx="768.6" cy="3670.3" r="10.2" fill="#1766DE"/>
<circle cx="796.2" cy="3640.0" r="10.2" fill="#1766DE"/>
<circle cx="823.8" cy="3607.3" r="10.2" fill="#1766DE"/>
<circle cx="851.4" cy="3581.7" r="10.2" fill="#1766DE"/>
<circle cx="879.0" cy="3543.9" r="10.2" fill="#1766DE"/>
<circle cx="906.6" cy="3513.0" r="10.2" fill="#1766DE"/>
<circle cx="934.2" cy="3471.2" r="10.2" fill="#1766DE"/>
<circle cx="961.8" cy="3429.4" r="10.2" fill="#1766DE"/>
<circle cx="989.4" cy="3387.4" r="10.2" fill="#1766DE"/>
<circle cx="1017.0" cy="3343.4" r="10.2" fill="#1766DE"/>
<circle cx="1044.6" cy="3299.4" r="10.2" fill="#1766DE"/>
<circle cx="1072.2" cy="3256.7" r="10.2" fill="#1766DE"/>
<circle cx="1099.8" cy="3211.7" r="10.2" fill="#1766DE"/>
<circle cx="1127.4" cy="3172.4" r="10.2" fill="#1766DE"/>
<circle cx="1155.0" cy="3137.4" r="10.2" fill="#1766DE"/>
<circle cx="1182.6" cy="3100.1" r="10.2" fill="#1766DE"/>
<circle cx="1210.2" cy="3075.0" r="10.2" fill="#1766DE"/>
<circle cx="1237.8" cy="3039.4" r="10.2" fill="#1766DE"/>
<circle cx="1265.4" cy="3005.0" r="10.2" fill="#1766DE"/>
<circle cx="1293.0" cy="2973.3" r="10.2" fill="#1766DE"/>
<circle cx="1320.6" cy="2941.7" r="10.2" fill="#1766DE"/>
<circle cx="1348.2" cy="2918.9" r="10.2" fill="#1766DE"/>
<circle cx="1375.8" cy="2887.3" r="10.2" fill="#1766DE"/>
<circle cx="1403.4" cy="2856.6" r="10.2" fill="#1766DE"/>
<circle cx="1431.0" cy="2834.0" r="10.2" fill="#1766DE"/>
<circle cx="1458.6" cy="2815.1" r="10.2" fill="#1766DE"/>
<circle cx="1486.2" cy="2800.8" r="10.2" fill="#1766DE"/>
<circle cx="1513.8" cy="2780.1" r="10.2" fill="#1766DE"/>
<circle cx="1541.4" cy="2766.7" r="10.2" fill="#1766DE"/>
<circle cx="1569.0" cy="2751.7" r="10.2" fill="#1766DE"/>
<circle cx="1596.6" cy="2735.1" r="10.2" fill="#1766DE"/>
<circle cx="1624.2" cy="2712.4" r="10.2" fill="#1766DE"/>
<circle cx="1651.8" cy="2705.0" r="10.2" fill="#1766DE"/>
<circle cx="1679.4" cy="2688.7" r="10.2" fill="#1766DE"/>
<circle cx="1707.0" cy="2679.4" r="10.2" fill="#1766DE"/>
<circle cx="1734.6" cy="2666.7" r="10.2" fill="#1766DE"/>
<circle cx="1762.2" cy="2657.9" r="10.2" fill="#1766DE"/>
<circle cx="1789.8" cy="2649.7" r="10.2" fill="#1766DE"/>
<circle cx="1817.4" cy="2641.1" r="10.2" fill="#1766DE"/>
<circle cx="1845.0" cy="2633.3" r="10.2" fill="#1766DE"/>
<circle cx="1872.6" cy="2620.7" r="10.2" fill="#1766DE"/>
<circle cx="1900.2" cy="2616.0" r="10.2" fill="#1766DE"/>
<circle cx="1927.8" cy="2610.0" r="10.2" fill="#1766DE"/>
<circle cx="1955.4" cy="2603.3" r="10.2" fill="#1766DE"/>
<circle cx="1983.0" cy="2596.7" r="10.2" fill="#1766DE"/>
<circle cx="2010.6" cy="2591.7" r="10.2" fill="#1766DE"/>
<circle cx="2038.2" cy="2587.3" r="10.2" fill="#1766DE"/>
<circle cx="2065.8" cy="2585.6" r="10.2" fill="#1766DE"/>
<circle cx="2093.4" cy="2580.5" r="10.2" fill="#1766DE"/>
<circle cx="2121.0" cy="2573.3" r="10.2" fill="#1766DE"/>
<circle cx="2148.6" cy="2568.9" r="10.2" fill="#1766DE"/>
<path d="M492.6 3767.0 L520.2 3767.0 L547.8 3767.0 L575.4 3764.9 L603.0 3762.8 L630.6 3762.8 L658.2 3758.4 L685.8 3756.0 L713.4 3747.5 L741.0 3742.3 L768.6 3733.9 L796.2 3723.6 L823.8 3715.5 L851.4 3693.0 L879.0 3670.8 L906.6 3647.6 L934.2 3619.6 L961.8 3579.3 L989.4 3537.0 L1017.0 3497.7 L1044.6 3442.7 L1072.2 3407.0 L1099.8 3358.4 L1127.4 3325.7 L1155.0 3276.9 L1182.6 3230.4 L1210.2 3186.1 L1237.8 3144.4 L1265.4 3112.4 L1293.0 3073.6 L1320.6 3047.7 L1348.2 3013.9 L1375.8 2981.1 L1403.4 2949.4 L1431.0 2921.1 L1458.6 2894.3 L1486.2 2870.4 L1513.8 2842.6 L1541.4 2822.7 L1569.0 2807.7 L1596.6 2791.7 L1624.2 2777.7 L1651.8 2762.7 L1679.4 2747.7 L1707.0 2732.7 L1734.6 2719.4 L1762.2 2710.0 L1789.8 2703.7 L1817.4 2692.7 L1845.0 2684.4 L1872.6 2675.0 L1900.2 2667.0 L1927.8 2659.3 L1955.4 2652.7 L1983.0 2648.7 L2010.6 2643.6 L2038.2 2638.4 L2065.8 2633.7 L2093.4 2626.1 L2121.0 2622.0 L2148.6 2617.0" fill="none" stroke="#2EAB67" stroke-width="6.0" stroke-linejoin="round" stroke-linecap="round"/>
<path d="M492.6 3752.5L504.6 3774.2L480.6 3774.2Z" fill="#2EAB67"/>
<path d="M520.2 3752.5L532.2 3774.2L508.2 3774.2Z" fill="#2EAB67"/>
<path d="M547.8 3752.5L559.8 3774.2L535.8 3774.2Z" fill="#2EAB67"/>
<path d="M575.4 3750.4L587.4 3772.1L563.4 3772.1Z" fill="#2EAB67"/>
<path d="M603.0 3748.3L615.0 3770.0L591.0 3770.0Z" fill="#2EAB67"/>
<path d="M630.6 3748.3L642.6 3770.0L618.6 3770.0Z" fill="#2EAB67"/>
<path d="M658.2 3743.9L670.2 3765.6L646.2 3765.6Z" fill="#2EAB67"/>
<path d="M685.8 3741.5L697.8 3763.2L673.8 3763.2Z" fill="#2EAB67"/>
<path d="M713.4 3733.0L725.4 3754.7L701.4 3754.7Z" fill="#2EAB67"/>
<path d="M741.0 3727.8L753.0 3749.5L729.0 3749.5Z" fill="#2EAB67"/>
<path d="M768.6 3719.4L780.6 3741.1L756.6 3741.1Z" fill="#2EAB67"/>
<path d="M796.2 3709.1L808.2 3730.8L784.2 3730.8Z" fill="#2EAB67"/>
<path d="M823.8 3701.1L835.8 3722.8L811.8 3722.8Z" fill="#2EAB67"/>
<path d="M851.4 3678.6L863.4 3700.3L839.4 3700.3Z" fill="#2EAB67"/>
<path d="M879.0 3656.4L891.0 3678.1L867.0 3678.1Z" fill="#2EAB67"/>
<path d="M906.6 3633.2L918.6 3654.9L894.6 3654.9Z" fill="#2EAB67"/>
<path d="M934.2 3605.2L946.2 3626.9L922.2 3626.9Z" fill="#2EAB67"/>
<path d="M961.8 3564.8L973.8 3586.5L949.8 3586.5Z" fill="#2EAB67"/>
<path d="M989.4 3522.6L1001.4 3544.3L977.4 3544.3Z" fill="#2EAB67"/>
<path d="M1017.0 3483.2L1029.0 3504.9L1005.0 3504.9Z" fill="#2EAB67"/>
<path d="M1044.6 3428.2L1056.6 3449.9L1032.6 3449.9Z" fill="#2EAB67"/>
<path d="M1072.2 3392.6L1084.2 3414.3L1060.2 3414.3Z" fill="#2EAB67"/>
<path d="M1099.8 3343.9L1111.8 3365.6L1087.8 3365.6Z" fill="#2EAB67"/>
<path d="M1127.4 3311.2L1139.4 3332.9L1115.4 3332.9Z" fill="#2EAB67"/>
<path d="M1155.0 3262.4L1167.0 3284.1L1143.0 3284.1Z" fill="#2EAB67"/>
<path d="M1182.6 3215.9L1194.6 3237.6L1170.6 3237.6Z" fill="#2EAB67"/>
<path d="M1210.2 3171.6L1222.2 3193.3L1198.2 3193.3Z" fill="#2EAB67"/>
<path d="M1237.8 3129.9L1249.8 3151.6L1225.8 3151.6Z" fill="#2EAB67"/>
<path d="M1265.4 3097.9L1277.4 3119.6L1253.4 3119.6Z" fill="#2EAB67"/>
<path d="M1293.0 3059.2L1305.0 3080.9L1281.0 3080.9Z" fill="#2EAB67"/>
<path d="M1320.6 3033.3L1332.6 3055.0L1308.6 3055.0Z" fill="#2EAB67"/>
<path d="M1348.2 2999.5L1360.2 3021.2L1336.2 3021.2Z" fill="#2EAB67"/>
<path d="M1375.8 2966.7L1387.8 2988.4L1363.8 2988.4Z" fill="#2EAB67"/>
<path d="M1403.4 2935.0L1415.4 2956.7L1391.4 2956.7Z" fill="#2EAB67"/>
<path d="M1431.0 2906.7L1443.0 2928.4L1419.0 2928.4Z" fill="#2EAB67"/>
<path d="M1458.6 2879.8L1470.6 2901.5L1446.6 2901.5Z" fill="#2EAB67"/>
<path d="M1486.2 2855.9L1498.2 2877.6L1474.2 2877.6Z" fill="#2EAB67"/>
<path d="M1513.8 2828.2L1525.8 2849.9L1501.8 2849.9Z" fill="#2EAB67"/>
<path d="M1541.4 2808.2L1553.4 2829.9L1529.4 2829.9Z" fill="#2EAB67"/>
<path d="M1569.0 2793.2L1581.0 2814.9L1557.0 2814.9Z" fill="#2EAB67"/>
<path d="M1596.6 2777.3L1608.6 2799.0L1584.6 2799.0Z" fill="#2EAB67"/>
<path d="M1624.2 2763.2L1636.2 2784.9L1612.2 2784.9Z" fill="#2EAB67"/>
<path d="M1651.8 2748.3L1663.8 2770.0L1639.8 2770.0Z" fill="#2EAB67"/>
<path d="M1679.4 2733.3L1691.4 2755.0L1667.4 2755.0Z" fill="#2EAB67"/>
<path d="M1707.0 2718.3L1719.0 2740.0L1695.0 2740.0Z" fill="#2EAB67"/>
<path d="M1734.6 2705.0L1746.6 2726.7L1722.6 2726.7Z" fill="#2EAB67"/>
<path d="M1762.2 2695.5L1774.2 2717.2L1750.2 2717.2Z" fill="#2EAB67"/>
<path d="M1789.8 2689.3L1801.8 2711.0L1777.8 2711.0Z" fill="#2EAB67"/>
<path d="M1817.4 2678.2L1829.4 2699.9L1805.4 2699.9Z" fill="#2EAB67"/>
<path d="M1845.0 2669.9L1857.0 2691.6L1833.0 2691.6Z" fill="#2EAB67"/>
<path d="M1872.6 2660.6L1884.6 2682.3L1860.6 2682.3Z" fill="#2EAB67"/>
<path d="M1900.2 2652.5L1912.2 2674.2L1888.2 2674.2Z" fill="#2EAB67"/>
<path d="M1927.8 2644.9L1939.8 2666.6L1915.8 2666.6Z" fill="#2EAB67"/>
<path d="M1955.4 2638.2L1967.4 2659.9L1943.4 2659.9Z" fill="#2EAB67"/>
<path d="M1983.0 2634.2L1995.0 2655.9L1971.0 2655.9Z" fill="#2EAB67"/>
<path d="M2010.6 2629.2L2022.6 2650.9L1998.6 2650.9Z" fill="#2EAB67"/>
<path d="M2038.2 2623.9L2050.2 2645.6L2026.2 2645.6Z" fill="#2EAB67"/>
<path d="M2065.8 2619.3L2077.8 2641.0L2053.8 2641.0Z" fill="#2EAB67"/>
<path d="M2093.4 2611.6L2105.4 2633.3L2081.4 2633.3Z" fill="#2EAB67"/>
<path d="M2121.0 2607.5L2133.0 2629.2L2109.0 2629.2Z" fill="#2EAB67"/>
<path d="M2148.6 2602.6L2160.6 2624.3L2136.6 2624.3Z" fill="#2EAB67"/>
<line x1="1767" y1="3598.0" x2="1946" y2="3598.0" stroke="#F54141" stroke-width="6.0" stroke-linecap="round"/>
<rect x="1846.2" y="3589.2" width="17.6" height="17.6" fill="#F54141"/>
<text x="1967" y="3624.8" class="tk">PPI<tspan style="font-size:64px" dx="-4.0" dy="-6.1" textLength="52.8" lengthAdjust="spacingAndGlyphs">=</tspan><tspan dx="-4.0" dy="6.1">60</tspan></text>
<line x1="1767" y1="3697.5" x2="1946" y2="3697.5" stroke="#1766DE" stroke-width="6.0" stroke-linecap="round"/>
<circle cx="1855.0" cy="3697.5" r="10.2" fill="#1766DE"/>
<text x="1967" y="3724.3" class="tk">PPI<tspan style="font-size:64px" dx="-4.0" dy="-6.1" textLength="52.8" lengthAdjust="spacingAndGlyphs">=</tspan><tspan dx="-4.0" dy="6.1">45</tspan></text>
<line x1="1767" y1="3796.5" x2="1946" y2="3796.5" stroke="#2EAB67" stroke-width="6.0" stroke-linecap="round"/>
<path d="M1855.0 3782.0L1867.0 3803.7L1843.0 3803.7Z" fill="#2EAB67"/>
<text x="1967" y="3823.3" class="tk">PPI<tspan style="font-size:64px" dx="-4.0" dy="-6.1" textLength="52.8" lengthAdjust="spacingAndGlyphs">=</tspan><tspan dx="-4.0" dy="6.1">30</tspan></text>
<text x="460" y="2484.4" class="tk">ε<tspan style="font-size:64px" dx="-4.0" dy="-6.1" textLength="52.8" lengthAdjust="spacingAndGlyphs">=</tspan><tspan dx="-4.0" dy="6.1">0.8</tspan></text><text x="460" y="2584.5" class="tk">L<tspan style="font-size:64px" dx="-4.0" dy="-6.1" textLength="52.8" lengthAdjust="spacingAndGlyphs">=</tspan><tspan dx="-4.0" dy="6.1">75mm</tspan></text><text x="460" y="2683.3" class="tk">u<tspan style="font-size:64px" dx="-4.0" dy="-6.1" textLength="52.8" lengthAdjust="spacingAndGlyphs">=</tspan><tspan dx="-4.0" dy="6.1">1.18m/s</tspan></text>
<text transform="translate(148.1,3163.2) rotate(-90) scale(1.147,0.962)" class="al">θ</text><text transform="translate(174.3,3123.2) rotate(-90) skewX(-18)" class="al" style="font-size:62px" font-style="italic">f</text>
<text x="1171.5" y="4373" text-anchor="middle" class="cap">(<tspan font-weight="bold">d</tspan>)</text>
</svg>
</body></html>
